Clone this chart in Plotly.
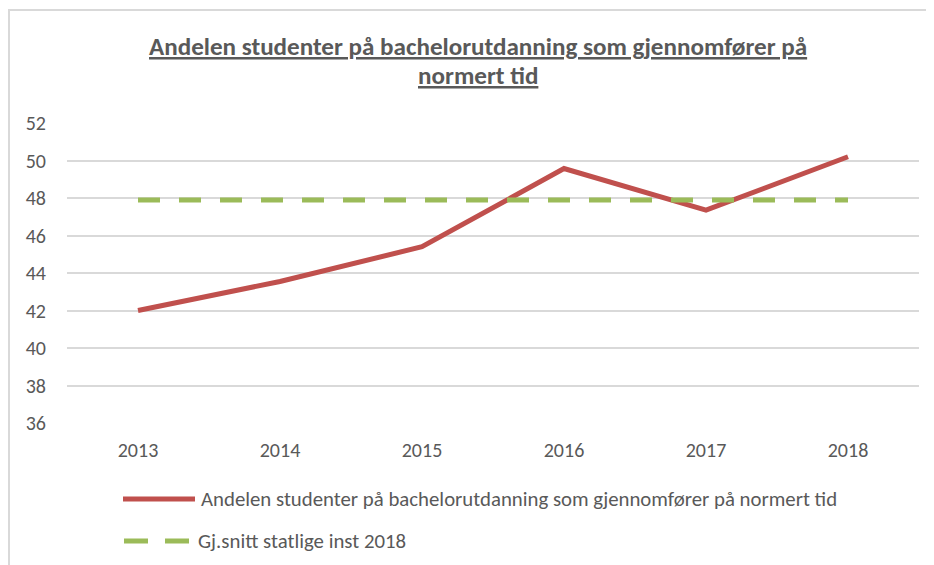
import plotly.graph_objects as go

years = ["2013", "2014", "2015", "2016", "2017", "2018"]
andel = [42.0, 43.55, 45.4, 49.57, 47.35, 50.2]
snitt = [47.9, 47.9, 47.9, 47.9, 47.9, 47.9]
name_andel = "Andelen studenter på bachelorutdanning som gjennomfører på normert tid"
name_snitt = "Gj.snitt statlige inst 2018"
title_lines = ["Andelen studenter på bachelorutdanning som gjennomfører på", "normert tid"]

W, H = 934, 565
OFF = 8  # page body margin
# plot area in page coordinates: x 67..919, y 123..423
L = 67 - OFF
T = 123 - OFF
R = W - (919 - OFF)
B = H - (423 - OFF)
PW, PH = W - L - R, H - T - B

def px(x):
    return (x - OFF - L) / PW

def py(y):
    return (H - B - (y - OFF)) / PH

FONT = "Carlito, Lato, sans-serif"
GREY = "#595959"
RED = "#c0504d"
GREEN = "#9bbb59"

fig = go.Figure()
fig.add_trace(go.Scatter(x=years, y=andel, mode="lines", name=name_andel,
                         line=dict(color=RED, width=5), showlegend=False))
fig.add_trace(go.Scatter(x=years, y=snitt, mode="lines", name=name_snitt,
                         line=dict(color=GREEN, width=5, dash="22px,19px"), showlegend=False))

shapes = [
    dict(type="rect", xref="paper", yref="paper", x0=px(9), x1=px(W + 20), y0=py(H + 20), y1=py(10),
         line=dict(color="#d9d9d9", width=2), fillcolor="rgba(0,0,0,0)", layer="below"),
    dict(type="line", xref="paper", yref="paper", x0=px(123), x1=px(195), y0=py(499), y1=py(499),
         line=dict(color=RED, width=5)),
    dict(type="line", xref="paper", yref="paper", x0=px(124), x1=px(190), y0=py(541), y1=py(541),
         line=dict(color=GREEN, width=5, dash="24px,17px")),
]

annotations = [
    dict(text=name_andel, xref="paper", yref="paper", x=px(199), y=py(499), xanchor="left", yanchor="middle",
         showarrow=False, font=dict(family=FONT, size=20.8, color=GREY)),
    dict(text=name_snitt, xref="paper", yref="paper", x=px(196), y=py(541), xanchor="left", yanchor="middle",
         showarrow=False, font=dict(family=FONT, size=20.8, color=GREY)),
]
for line_text, ypos in zip(title_lines, [47, 75]):
    annotations.append(dict(text="<b><u>" + line_text + "</u></b>", xref="paper", yref="paper",
                            x=px(478), y=py(ypos), xanchor="center", yanchor="middle", showarrow=False,
                            font=dict(family=FONT, size=25.1, color=GREY)))

fig.update_layout(
    width=W, height=H,
    margin=dict(l=L, r=R, t=T, b=B),
    paper_bgcolor="white", plot_bgcolor="white",
    shapes=shapes, annotations=annotations,
    font=dict(family=FONT, color=GREY),
)
fig.update_xaxes(type="category", range=[-0.5, 5.5], showgrid=False, zeroline=False,
                 showline=False, ticks="", ticklabelstandoff=13,
                 tickfont=dict(family=FONT, size=20, color=GREY))
fig.update_yaxes(range=[36, 52], dtick=2, tick0=36, showgrid=True, gridcolor="#d9d9d9", gridwidth=1.5,
                 zeroline=False, showline=False, ticks="", ticklabelstandoff=20,
                 tickfont=dict(family=FONT, size=20, color=GREY))

fig.write_html("out.html")
